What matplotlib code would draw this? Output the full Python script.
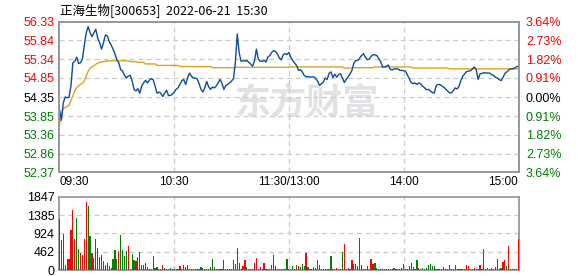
import numpy as np
import matplotlib
matplotlib.use('Agg')
import matplotlib.pyplot as plt

# ---- data ----
title = '正海生物[300653]  2022-06-21  15:30'

price_ticks = [56.33, 55.84, 55.34, 54.85, 54.35, 53.85, 53.36, 52.86, 52.37]
pct_labels = ['3.64%', '2.73%', '1.82%', '0.91%', '0.00%', '0.91%', '1.82%', '2.73%', '3.64%']
vol_ticks = [0, 462, 924, 1385, 1847]
time_labels = ['09:30', '10:30', '11:30/13:00', '14:00', '15:00']

# minute prices 09:30 .. 11:30 / 13:00 .. 15:00 (241 points)
price = [
    54.02, 53.74, 54.20, 54.35, 54.33, 54.35, 54.64, 55.25, 55.29, 55.40,
    55.23, 55.25, 55.35, 55.72, 56.04, 56.20, 56.04, 55.94, 56.04, 56.13,
    55.90, 55.78, 55.61, 55.77, 55.98, 55.96, 55.81, 55.72, 55.61, 55.49,
    55.33, 55.25, 55.07, 55.03, 54.92, 54.85, 54.90, 54.92, 54.77, 54.55,
    54.51, 54.57, 54.45, 54.64, 54.72, 54.79, 54.72, 54.79, 54.83, 54.81,
    54.64, 54.45, 54.48, 54.45, 54.36, 54.45, 54.53, 54.39, 54.39, 54.42,
    54.48, 54.55, 54.59, 54.68, 54.78, 54.81, 54.68, 54.85, 54.98, 54.90,
    54.85, 54.85, 54.83, 54.71, 54.55, 54.48, 54.59, 54.76, 54.62, 54.55,
    54.61, 54.59, 54.64, 54.72, 54.81, 54.71, 54.55, 54.65, 54.68, 54.72,
    54.77, 54.83, 55.25, 56.01, 55.51, 55.29, 55.31, 55.29, 55.31, 55.26,
    55.22, 55.16, 55.29, 55.61, 55.35, 55.29, 55.29, 55.31, 55.27, 55.40,
    55.44, 55.52, 55.57, 55.55, 55.48, 55.38, 55.33, 55.46, 55.49, 55.47,
    55.52, 55.40, 55.31, 55.24, 55.18, 55.05, 55.07, 55.01, 54.92, 54.88,
    54.89, 54.87, 54.88, 54.88, 54.84, 54.77, 54.66, 54.70, 54.74, 54.85,
    54.81, 54.97, 55.01, 54.86, 54.95, 54.87, 54.94, 54.96, 54.85, 54.73,
    54.82, 54.88, 54.96, 55.05, 55.24, 55.31, 55.31, 55.37, 55.44, 55.49,
    55.40, 55.33, 55.35, 55.42, 55.46, 55.46, 55.44, 55.36, 55.28, 55.14,
    55.14, 55.16, 55.19, 55.08, 55.06, 55.09, 55.09, 55.09, 55.05, 55.05,
    55.04, 55.03, 54.93, 54.83, 54.73, 54.70, 54.72, 54.68, 54.72, 54.69,
    54.63, 54.59, 54.54, 54.55, 54.51, 54.47, 54.45, 54.64, 54.68, 54.68,
    54.64, 54.61, 54.56, 54.51, 54.46, 54.46, 54.52, 54.59, 54.56, 54.63,
    54.79, 54.90, 54.96, 55.02, 55.03, 55.04, 55.09, 55.14, 55.07, 54.81,
    54.96, 54.97, 54.99, 54.98, 54.98, 54.98, 54.94, 54.92, 54.87, 54.85,
    54.81, 54.78, 54.86, 54.97, 55.01, 55.06, 55.09, 55.09, 55.11, 55.14,
    55.16,
]

# average price line
avg_price = (
    [53.61, 53.90, 54.05, 54.07, 54.10, 54.13, 54.25, 54.38, 54.51, 54.59,
     54.65, 54.68, 54.71, 54.77, 54.90, 55.03, 55.11, 55.14, 55.17, 55.21,
     55.24, 55.26, 55.27, 55.28, 55.29]
    + [55.30] * 12 + [55.28] * 4 + [55.26] * 4 + [55.22] * 6 + [55.18] * 12
    + [55.15] * 17 + [55.12] * 12 + [55.13] * 29 + [55.14] * 28
    + [55.11] * 5 + [55.12] * 11 + [55.14] * 20 + [55.11] * 19 + [55.09] * 37
)

volume = [
    1285, 756, 907, 126, 277, 277, 1008, 1512, 781, 1310,
    529, 428, 378, 781, 1714, 1613, 857, 428, 302, 781,
    554, 328, 378, 227, 126, 176, 101, 50, 277, 504,
    277, 479, 882, 504, 353, 479, 605, 25, 403, 252,
    227, 328, 454, 126, 126, 176, 76, 25, 25, 353,
    50, 76, 25, 25, 126, 50, 25, 25, 50, 25,
    25, 25, 25, 101, 25, 126, 76, 126, 25, 25,
    25, 25, 25, 25, 76, 50, 25, 25, 25, 76,
    277, 76, 25, 25, 25, 25, 252, 25, 25, 25,
    25, 252, 151, 554, 176, 25, 101, 252, 76, 25,
    25, 25, 176, 302, 25, 76, 25, 176, 25, 25,
    25, 126, 378, 101, 25, 25, 25, 25, 25, 277,
    25, 25, 101, 25, 126, 101, 76, 151, 101, 428,
    76, 25, 25, 76, 50, 252, 126, 25, 25, 25,
    25, 25, 353, 25, 25, 50, 25, 25, 454, 655,
    25, 50, 25, 252, 151, 151, 101, 806, 126, 25,
    25, 101, 25, 277, 151, 176, 50, 25, 25, 25,
    25, 25, 25, 25, 25, 50, 25, 25, 25, 50,
    151,
    25, 25, 101, 176, 76, 25, 252, 50, 25, 50,
    25, 50, 126, 151, 101, 101, 25, 25, 25, 25,
    76, 25, 25, 126, 25, 25, 126, 25, 25, 25,
    25, 25, 126, 101, 25, 25, 50, 25, 25, 126,
    25, 529, 25, 50, 25, 50, 25, 76, 277, 25,
    50, 202, 252, 101, 605, 25, 25, 25, 25, 781,
]

# R = up minute, G = down minute
vol_dir = (
    "GRGRRRRRRGGRRRRGGRRGGGGRRGGGGGGRGGGGRGGGRRGRRRGRRGGGRRRGGGGG"
    "RRRRGGGRGGGGGGGGRRGGGGRRRRGGGGGRRRGRRRGGGGRRGRRRGGRRRGGGGGGG"
    "GGGRGRGGGRGGRGGGGRGRRRGRRRGRGRRRRRRRGRRGGGGRRGGGGGGRRRGGGRRRR"
    "GGGGRRGRRGGGGGGGRRGGGGGGRRRGGRRRRRRRRGGRGRGGRGRGGRGRRGRRRGGR"
)

assert len(price) == len(avg_price) == len(volume) == len(vol_dir) == 241

# ---- style ----
RED = '#ff0000'
GREEN = '#008000'
GRID = '#cccccc'
FRAME = '#999999'
plt.rcParams['font.family'] = ['Liberation Sans', 'DejaVu Sans']

minutes = np.arange(len(price))
tick_pos = [0, 60, 120, 180, 240]


def label_color(i, n):
    mid = n // 2
    if i < mid:
        return RED
    if i == mid:
        return 'black'
    return GREEN


def frame(ax):
    for s in ax.spines.values():
        s.set_color(FRAME)
        s.set_linewidth(1.3)
    ax.tick_params(length=0)


fig = plt.figure(figsize=(5.78, 2.76), dpi=100)
ax = fig.add_axes([0.1016, 0.3757, 0.7964, 0.5457])
axv = fig.add_axes([0.1016, 0.0217, 0.7964, 0.2656])

# price panel
ax.plot(minutes, price, color='#0d4c9e', lw=1.0, zorder=3)
ax.plot(minutes, avg_price, color='#e0a020', lw=1.0, zorder=2)
ax.set_xlim(-0.4, 240.4)
ax.set_ylim(price_ticks[-1], price_ticks[0])
ax.set_yticks(price_ticks)
ax.set_yticklabels(['%.2f' % v for v in price_ticks], fontsize=9)
for i, t in enumerate(ax.get_yticklabels()):
    t.set_color(label_color(i, len(price_ticks)))
ax.set_xticks(tick_pos)
ax.set_xticklabels(time_labels, fontsize=8.5)
xl = ax.get_xticklabels()
xl[0].set_ha('left')
xl[-1].set_ha('right')
ax.tick_params(axis='x', pad=3)
ax.tick_params(axis='y', pad=3)
for v in price_ticks[1:-1]:
    ax.axhline(v, color=GRID, lw=0.9, dashes=(4, 3), zorder=1)
for p in tick_pos[1:-1]:
    ax.axvline(p, color=GRID, lw=0.9, dashes=(4, 3), zorder=1)
frame(ax)

ax.text(0.54, 0.46, '东方财富', transform=ax.transAxes, ha='center', va='center',
        fontsize=26, fontweight='bold', color='#e2e2e6', zorder=0,
        family=['Noto Sans CJK SC', 'DejaVu Sans'])

ax2 = ax.twinx()
ax2.set_ylim(ax.get_ylim())
ax2.set_yticks(price_ticks)
ax2.set_yticklabels(pct_labels, fontsize=9)
for i, t in enumerate(ax2.get_yticklabels()):
    t.set_color(label_color(i, len(price_ticks)))
ax2.tick_params(axis='y', pad=5)
frame(ax2)

# volume panel
bar_colors = [RED if d == 'R' else GREEN for d in vol_dir]
axv.bar(minutes, volume, width=0.62, color=bar_colors, linewidth=0,
        antialiased=False, zorder=3)
axv.set_xlim(-0.4, 240.4)
axv.set_ylim(0, vol_ticks[-1])
axv.set_yticks(vol_ticks)
axv.set_yticklabels([str(v) for v in vol_ticks], fontsize=9)
axv.set_xticks([])
axv.tick_params(axis='y', pad=3)
for v in vol_ticks[1:-1]:
    axv.axhline(v, color=GRID, lw=0.9, dashes=(4, 3), zorder=1)
for p in tick_pos[1:-1]:
    axv.axvline(p, color=GRID, lw=0.9, dashes=(4, 3), zorder=1)
frame(axv)

fig.text(60 / 578, 1 - 10 / 276, title, ha='left', va='center', fontsize=9,
         family=['Noto Sans CJK SC', 'DejaVu Sans'])

fig.savefig('out.png', dpi=100, facecolor='white')
